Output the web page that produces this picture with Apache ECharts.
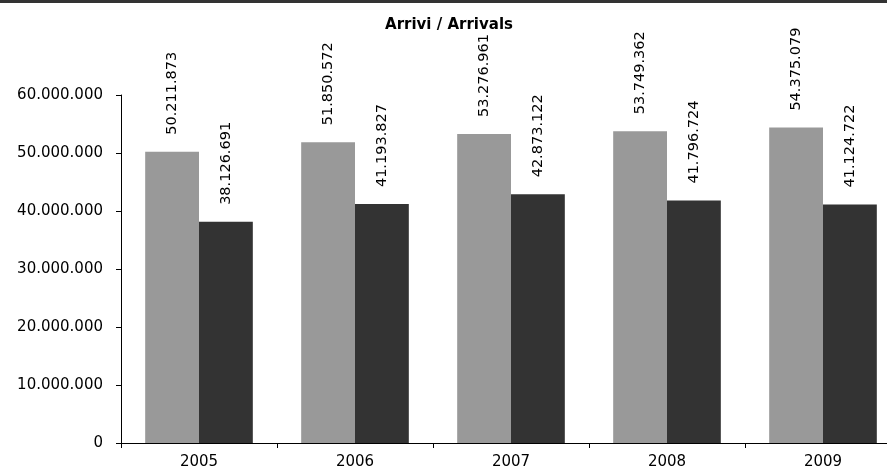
<!DOCTYPE html>
<html>
<head>
<meta charset="utf-8">
<script src="https://cdn.jsdelivr.net/npm/echarts@6/dist/echarts.min.js"></script>
<style>
html,body{margin:0;padding:0;background:#fff;overflow:hidden;width:887px;height:472px;}
#chart{width:901px;height:472px;}
</style>
</head>
<body>
<div id="chart"></div>
<script>
const categories = ['2005', '2006', '2007', '2008', '2009'];
const arrivalsA = [50211873, 51850572, 53276961, 53749362, 54375079];
const arrivalsB = [38126691, 41193827, 42873122, 41796724, 41124722];
const yTicks = [0, 10000000, 20000000, 30000000, 40000000, 50000000, 60000000];

function fmt(v) {
  return String(Math.round(v)).replace(/\B(?=(\d{3})+(?!\d))/g, '.');
}

const font = 'DejaVu Sans';
const chart = echarts.init(document.getElementById('chart'), null, {renderer: 'canvas'});

const labelCfg = {
  show: true,
  position: 'top',
  distance: 17,
  rotate: 90,
  align: 'left',
  verticalAlign: 'middle',
  fontFamily: font,
  fontSize: 14.5,
  color: '#000',
  formatter: p => fmt(p.value)
};

chart.setOption({
  animation: false,
  backgroundColor: '#fff',
  title: {
    text: 'Arrivi / Arrivals',
    left: 444,
    textAlign: 'center',
    top: 13,
    textStyle: {fontFamily: font, fontWeight: 'bold', fontSize: 15, color: '#000'}
  },
  graphic: [{
    type: 'rect',
    shape: {x: 0, y: 0, width: 901, height: 3},
    style: {fill: '#333'}
  }],
  grid: {left: 121, right: 0, top: 95, bottom: 29, outerBoundsMode: 'none'},
  xAxis: {
    type: 'category',
    data: categories,
    axisLine: {lineStyle: {color: '#000', width: 1}},
    axisTick: {show: true, alignWithLabel: false, length: 5, lineStyle: {color: '#000'}},
    axisLabel: {fontFamily: font, fontSize: 15, color: '#000', margin: 12}
  },
  yAxis: {
    type: 'value',
    min: yTicks[0],
    max: yTicks[yTicks.length - 1],
    interval: yTicks[1] - yTicks[0],
    splitLine: {show: false},
    axisLine: {show: true, lineStyle: {color: '#000', width: 1}},
    axisTick: {show: true, length: 5, lineStyle: {color: '#000'}},
    axisLabel: {fontFamily: font, fontSize: 15, color: '#000', margin: 18, formatter: v => fmt(v)}
  },
  series: [
    {
      type: 'bar',
      data: arrivalsA,
      barGap: '0%',
      barCategoryGap: '31%',
      itemStyle: {color: '#999999'},
      label: labelCfg
    },
    {
      type: 'bar',
      data: arrivalsB,
      barGap: '0%',
      barCategoryGap: '31%',
      itemStyle: {color: '#333333'},
      label: labelCfg
    }
  ]
});
</script>
</body>
</html>
